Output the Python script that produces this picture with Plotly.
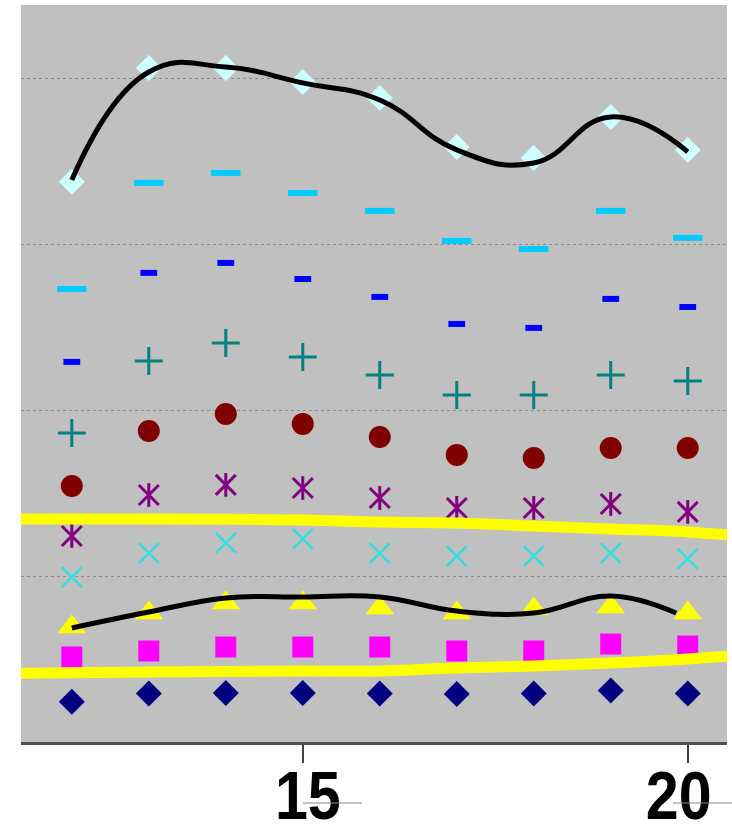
import plotly.graph_objects as go

x = [12, 13, 14, 15, 16, 17, 18, 19, 20]

navy_diamond = [2.43, 2.92, 2.95, 2.95, 2.93, 2.90, 2.92, 3.10, 2.92]
magenta_square = [5.13, 5.49, 5.73, 5.73, 5.73, 5.49, 5.49, 5.91, 5.79]
yellow_triangle = [6.94, 7.78, 8.39, 8.39, 8.08, 7.78, 8.02, 8.14, 7.78]
cyan_x = [9.95, 11.40, 12.01, 12.25, 11.40, 11.22, 11.22, 11.40, 11.04]
purple_star = [12.43, 14.90, 15.51, 15.32, 14.72, 14.12, 14.12, 14.36, 13.88]
darkred_circle = [15.44, 18.76, 19.79, 19.19, 18.40, 17.32, 17.13, 17.74, 17.74]
teal_plus = [18.64, 22.99, 24.07, 23.23, 22.14, 20.94, 20.94, 22.14, 21.78]
blue_dash = [22.93, 28.30, 28.90, 27.93, 26.85, 25.22, 24.98, 26.73, 26.24]
skyblue_dash = [27.33, 33.73, 34.33, 33.12, 32.04, 30.23, 29.74, 32.04, 30.41]
lightcyan_diamond = [33.79, 40.66, 40.66, 39.82, 38.85, 35.90, 35.23, 37.71, 35.72]

upper_curve_x = [12, 13, 14, 15, 16, 17, 18, 19, 20]
upper_curve = [33.91, 40.42, 40.72, 39.76, 38.73, 35.72, 34.93, 37.71, 35.60]
lower_curve_x = [12, 13, 14, 15, 16, 17, 18, 19, 19.85]
lower_curve = [6.88, 7.84, 8.69, 8.75, 8.75, 7.90, 7.78, 8.81, 7.78]

yellow_x = [11, 12, 13, 15, 16, 17, 18, 19, 20, 21]
yellow_upper = [13.45, 13.45, 13.45, 13.39, 13.27, 13.21, 13.03, 12.85, 12.67, 12.30]
yellow_lower = [4.13, 4.18, 4.22, 4.28, 4.28, 4.46, 4.59, 4.77, 5.01, 5.35]

tick_vals = [15, 20]
tick_text = ["15", "20"]

fig = go.Figure()


def add_markers(yvals, symbol, color, size, lw=0):
    fig.add_trace(go.Scatter(
        x=x, y=yvals, mode="markers", showlegend=False, hoverinfo="skip",
        marker=dict(symbol=symbol, color=color, size=size,
                    line=dict(color=color, width=lw)),
    ))


add_markers(navy_diamond, "diamond", "#000080", 20)
add_markers(magenta_square, "square", "#FF00FF", 21)
add_markers(yellow_triangle, "triangle-up", "#FFFF00", 25)
add_markers(cyan_x, "x-thin", "#33E0E0", 20, 2.5)
add_markers(purple_star, "x-thin", "#800080", 20, 3)
add_markers(purple_star, "line-ns", "#800080", 17, 3)
add_markers(darkred_circle, "circle", "#800000", 22)
add_markers(teal_plus, "cross-thin", "#008080", 20, 3)
add_markers(blue_dash, "line-ew", "#0000FF", 12, 6)
add_markers(skyblue_dash, "line-ew", "#00CCFF", 21, 6)
add_markers(lightcyan_diamond, "diamond", "#CCFFFF", 20)

for yv in (yellow_upper, yellow_lower):
    fig.add_trace(go.Scatter(
        x=yellow_x, y=yv, mode="lines", showlegend=False, hoverinfo="skip",
        line=dict(color="#FFFF00", width=11, shape="spline"),
    ))

fig.add_trace(go.Scatter(
    x=upper_curve_x, y=upper_curve, mode="lines", showlegend=False, hoverinfo="skip",
    line=dict(color="#000000", width=5, shape="spline", smoothing=1.3),
))
fig.add_trace(go.Scatter(
    x=lower_curve_x, y=lower_curve, mode="lines", showlegend=False, hoverinfo="skip",
    line=dict(color="#000000", width=5, shape="spline", smoothing=1.2),
))

fig.add_shape(type="line", xref="paper", yref="paper", x0=0.3994, x1=0.483,
              y0=-0.0828, y1=-0.0828, line=dict(color="#888888", width=1))
fig.add_shape(type="line", xref="paper", yref="paper", x0=0.9235, x1=1.01,
              y0=-0.0828, y1=-0.0828, line=dict(color="#888888", width=1))

fig.update_layout(
    template="none",
    width=732, height=825,
    margin=dict(l=21, r=5, t=5, b=83, autoexpand=False),
    paper_bgcolor="#FFFFFF",
    plot_bgcolor="#C0C0C0",
    showlegend=False,
    xaxis=dict(
        range=[11.34, 20.51],
        automargin=False,
        tickvals=tick_vals, ticktext=tick_text,
        showgrid=False, zeroline=False,
        showline=True, linecolor="#505050", linewidth=3,
        ticks="outside", ticklen=18, tickwidth=2, tickcolor="#404040",
        ticklabelstandoff=-26,
        tickfont=dict(family="Liberation Sans, Arial, sans-serif",
                      size=68, color="#000000", weight="bold"),
    ),
    yaxis=dict(
        range=[0, 44.46],
        automargin=False,
        tickvals=[10, 20, 30, 40],
        showticklabels=False,
        showgrid=True, gridcolor="#8C8C8C", gridwidth=1, griddash="dot",
        zeroline=False, showline=False, ticks="",
    ),
)

post = """
document.body.style.margin = '0';
document.body.style.overflow = 'hidden';
var gd = document.getElementById('{plot_id}');
var shift = {'15': 5, '20': -9};
gd.querySelectorAll('.xtick text').forEach(function(t) {
  var tr = t.getAttribute('transform') || '';
  var dx = shift[t.textContent] || 0;
  t.setAttribute('transform', tr + ' translate(' + dx + ',0) scale(0.87,1)');
});
"""

fig.write_html("out.html", post_script=post, config={"displayModeBar": False})
